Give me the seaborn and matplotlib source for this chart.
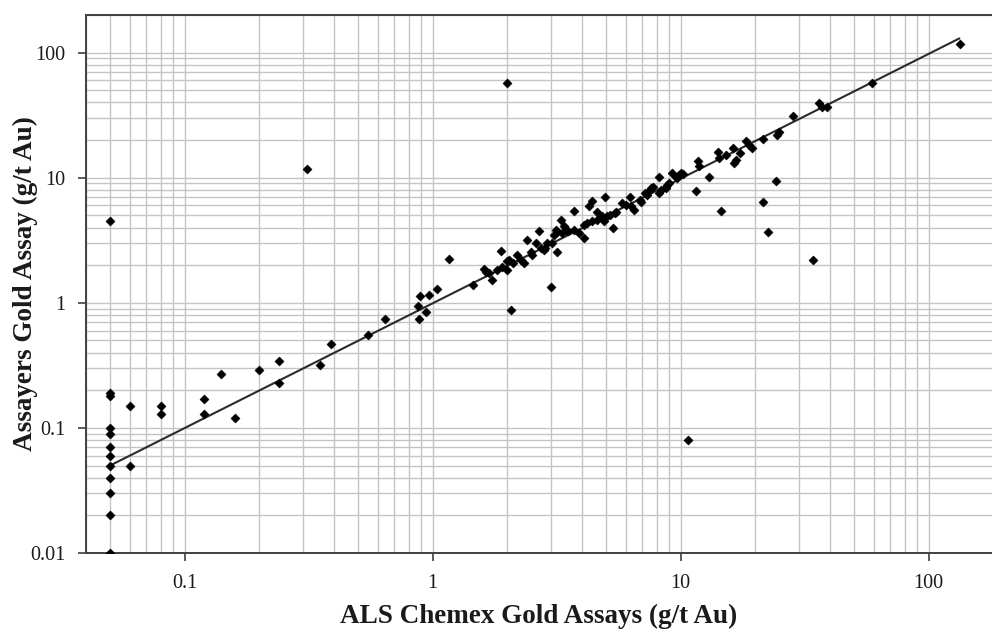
import matplotlib
matplotlib.use("Agg")
import matplotlib.pyplot as plt
import matplotlib.ticker as mticker
import numpy as np
import pandas as pd
import seaborn as sns

# Paired gold assays (g/t Au): ALS Chemex check assay vs. original assayer result
als_chemex = [
    0.05, 0.05, 0.05, 0.05, 0.05, 0.05, 0.05, 0.05, 0.05, 0.05, 0.05, 0.05,
    0.06, 0.06, 0.08, 0.08, 0.12, 0.12, 0.14, 0.16, 0.20, 0.24, 0.24, 0.31,
    0.35, 0.39, 0.55, 0.64, 0.87, 0.88, 0.89, 0.94, 0.97, 1.04, 1.16, 1.46,
    1.61, 1.64, 1.69, 1.73, 1.82, 1.88, 1.91, 1.99, 1.99, 2.03, 2.00, 2.06,
    2.10, 2.19, 2.26, 2.33, 2.41, 2.48, 2.52, 2.60, 2.68, 2.73, 2.81, 2.85,
    2.90, 2.99, 3.04, 3.08, 3.18, 3.13, 3.18, 3.28, 3.33, 3.38, 3.44, 3.50,
    3.72, 3.72, 3.89, 4.07, 4.07, 4.20, 4.26, 4.40, 4.40, 4.58, 4.60, 4.80,
    4.90, 4.94, 5.05, 5.20, 5.33, 5.44, 5.50, 5.82, 6.00, 6.25, 6.30, 6.50,
    6.85, 6.90, 7.20, 7.30, 7.45, 7.60, 7.70, 8.18, 8.18, 8.30, 8.70, 8.80,
    9.00, 9.26, 9.54, 9.70, 9.85, 10.0, 10.2, 10.7, 11.5, 11.7, 11.85, 13.0,
    14.1, 14.3, 14.6, 15.2, 16.2, 16.4, 16.7, 17.3, 18.3, 18.8, 19.3, 21.5,
    21.5, 22.5, 24.3, 24.5, 24.8, 28.4, 34.3, 36.2, 37.2, 38.8, 59.2, 134.0,
]
assayers = [
    4.5, 0.19, 0.18, 0.10, 0.09, 0.07, 0.06, 0.05, 0.04, 0.03, 0.02, 0.01,
    0.15, 0.05, 0.15, 0.13, 0.17, 0.13, 0.27, 0.12, 0.29, 0.34, 0.23, 11.7,
    0.32, 0.47, 0.55, 0.74, 0.95, 0.74, 1.14, 0.84, 1.16, 1.29, 2.25, 1.39,
    1.86, 1.78, 1.73, 1.53, 1.84, 2.60, 1.95, 57.3, 2.14, 2.20, 1.84, 0.88,
    2.08, 2.42, 2.20, 2.08, 3.19, 2.57, 2.42, 3.00, 3.72, 2.74, 2.66, 2.74,
    3.00, 1.33, 3.00, 3.50, 2.57, 3.84, 3.70, 4.60, 3.60, 4.10, 3.84, 3.72,
    5.45, 3.84, 3.60, 3.30, 4.20, 4.34, 5.97, 6.47, 4.47, 5.30, 4.60, 4.90,
    4.47, 7.00, 4.90, 5.05, 3.95, 5.20, 5.30, 6.27, 6.08, 7.00, 5.90, 5.48,
    6.67, 6.40, 7.50, 7.30, 7.78, 8.30, 8.50, 7.50, 10.06, 8.00, 8.30, 8.80,
    9.10, 10.9, 10.2, 9.90, 10.5, 10.9, 10.8, 0.08, 7.80, 13.5, 12.3, 10.2,
    16.2, 14.4, 5.40, 15.3, 17.3, 13.1, 13.9, 15.8, 19.5, 18.4, 17.2, 20.5,
    6.35, 3.68, 9.35, 22.0, 23.0, 31.0, 2.20, 39.7, 36.5, 36.6, 57.5, 117.0,
]

# End points of the fitted trend line
trend_x = [0.05, 133.0]
trend_y = [0.05, 130.0]

x_ticks = [0.1, 1, 10, 100]
x_tick_labels = ["0.1", "1", "10", "100"]
y_ticks = [0.01, 0.1, 1, 10, 100]
y_tick_labels = ["0.01", "0.1", "1", "10", "100"]

x_label = "ALS Chemex Gold Assays (g/t Au)"
y_label = "Assayers Gold Assay (g/t Au)"

df = pd.DataFrame({"als": als_chemex, "assayers": assayers})
trend = pd.DataFrame({"x": trend_x, "y": trend_y})

sns.set_theme(style="white")
plt.rcParams["font.family"] = ["Liberation Serif", "DejaVu Serif"]

fig = plt.figure(figsize=(9.92, 6.33), dpi=100)
ax = fig.add_axes([86 / 992, 1 - 553 / 633, (992 - 86) / 992, (553 - 15) / 633])

ax.set_xscale("log")
ax.set_yscale("log")
ax.set_xlim(0.04, 180)
ax.set_ylim(0.01, 200)

# Light grid on every decade and sub-decade value
ax.xaxis.set_minor_locator(mticker.LogLocator(base=10, subs=np.arange(2, 10)))
ax.yaxis.set_minor_locator(mticker.LogLocator(base=10, subs=np.arange(2, 10)))
ax.grid(True, which="both", color="#c4c4c4", linewidth=1.0)
ax.set_axisbelow(True)

sns.lineplot(data=trend, x="x", y="y", ax=ax, color="#2a2a2a", linewidth=1.5,
             estimator=None, sort=False, legend=False)
sns.scatterplot(data=df, x="als", y="assayers", ax=ax, marker="D", s=22,
                color="black", edgecolor="black", linewidth=0.3, legend=False,
                zorder=3)

ax.set_xticks(x_ticks)
ax.set_xticklabels(x_tick_labels)
ax.set_yticks(y_ticks)
ax.set_yticklabels(y_tick_labels)
ax.tick_params(axis="both", which="major", direction="out", length=6, width=1.2,
               color="#404040", labelsize=14.5, labelcolor="#1a1a1a", pad=9,
               bottom=True, left=True)
ax.tick_params(axis="both", which="minor", length=0)

for side in ["left", "bottom", "top"]:
    ax.spines[side].set_color("#404040")
    ax.spines[side].set_linewidth(1.4)
ax.spines["right"].set_visible(False)

ax.set_xlabel(x_label, fontsize=19.5, fontweight="bold", color="#1a1a1a", labelpad=8)
ax.set_ylabel(y_label, fontsize=19.5, fontweight="bold", color="#1a1a1a")
ax.yaxis.set_label_coords(-0.053, 0.5)

fig.savefig("out.png", dpi=100)
